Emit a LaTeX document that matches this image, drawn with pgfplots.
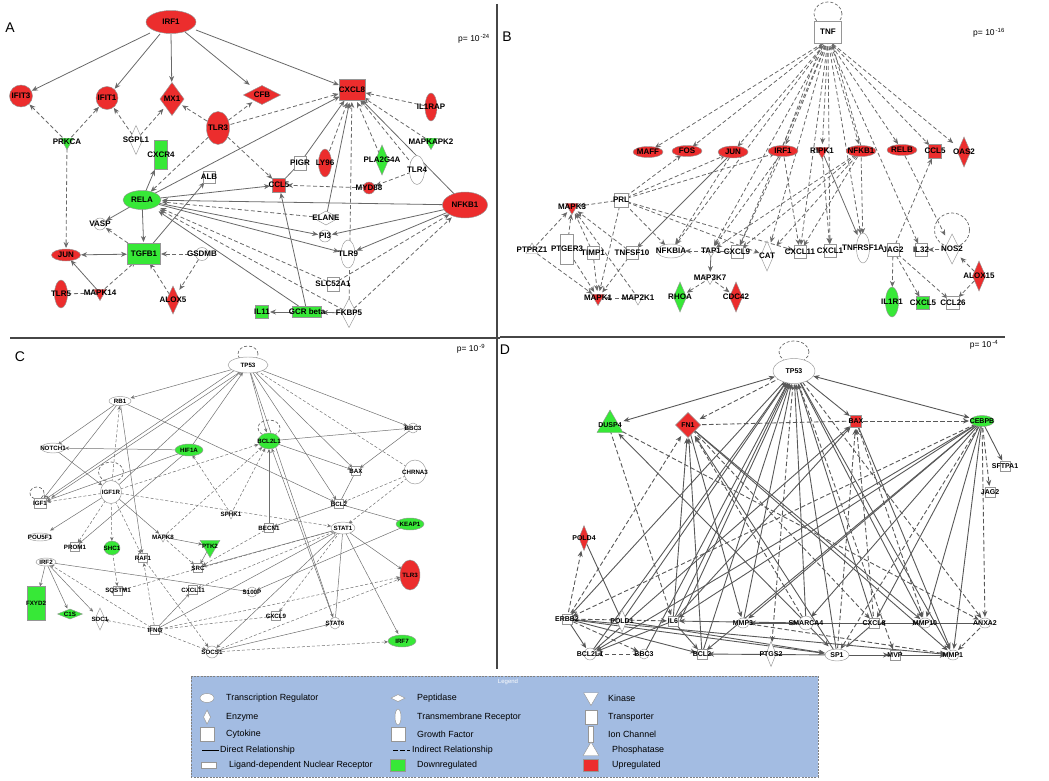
\documentclass[border=0pt]{standalone}
\usepackage{pgfplots}
\pgfplotsset{compat=1.18}
\usepackage{pgfplotstable}
\usepackage{fontspec}
\setmainfont{Liberation Sans}
\usetikzlibrary{arrows.meta,shapes.geometric}
\definecolor{nR}{RGB}{236,45,45}
\definecolor{nG}{RGB}{55,232,55}
\definecolor{nW}{RGB}{255,255,255}
\definecolor{nBorder}{RGB}{150,150,150}
\definecolor{edgeA}{RGB}{105,105,105}
\definecolor{edgeC}{RGB}{112,112,112}
\definecolor{edgeD}{RGB}{88,88,88}
\definecolor{legbg}{RGB}{163,188,226}
\definecolor{panel}{RGB}{70,70,70}

\pgfplotstableread[col sep=comma]{
x,y,w,h,c,t,f
171,22,50,23,nR,IRF1,8
21,96,23,22,nR,IFIT3,8
107,98,22,23,nR,IFIT1,8
218,128,23,33,nR,TLR3,8
431,107,12,28,nR,IL1RAP,8
325,163,13,28,nR,LY96,8
369,188,12,12,nR,MYD88,8
142,200,38,19,nG,RELA,8
465,205,45,26,nR,NFKB1,8
100,224,12,12,nW,VASP,8
325,236,12,12,nW,PI3,8
66,255,29,12,nR,JUN,8
202,254,13,13,nW,GSDMB,8
348,254,14,28,nW,TLR9,8
417,170,15,29,nW,TLR4,8
61,294,13,28,nR,TLR5,8
648,152,30,11,nR,MAFF,8
687,151,30,11,nR,FOS,8
733,152,30,12,nR,JUN,8
783,151,30,11,nR,IRF1,8
861,151,30,11,nR,NFKB1,8
902,150,30,11,nR,RELB,8
671,251,28,14,nW,NFKBIA,8
863,248,13,30,nW,TNFRSF1A,8
892,302,13,30,nG,IL1R1,8
248,365,40,16,nW,TP53,6.2
120,401,22,9,nW,RB1,6.2
413,428,10,10,nW,BBC3,6.2
53,448,24,10,nW,NOTCH1,6.2
189,450,28,12,nG,HIF1A,6.2
269,441,22,16,nG,BCL2L1,6.2
415,472,22,24,nW,CHRNA3,6.2
111,492,21,23,nW,IGF1R,6.2
410,524,28,12,nG,KEAP1,6.2
343,528,24,12,nW,STAT1,6.2
40,537,24,8,nW,POU5F1,6.2
112,548,16,14,nG,SHC1,6.2
46,562,20,8,nW,IRF2,6.2
410,575,20,30,nR,TLR3,6.2
252,592,10,10,nW,S100P,6.2
335,623,10,12,nW,STAT6,6.2
212,652,12,12,nW,SOCS1,6.2
402,641,28,12,nG,IRF7,6.2
794,371,42,25,nW,TP53,7
982,421,24,11,nG,CEBPB,7
743,623,12,10,nW,MMP3,7
806,623,14,14,nW,SMARCA4,7
925,623,12,10,nW,MMP10,7
985,623,12,10,nW,ANXA2,7
590,654,12,12,nW,BCL2L1,7
644,654,10,10,nW,BBC3,7
837,655,24,12,nW,SP1,7
953,655,12,10,nW,MMP1,7
}\tEll

\pgfplotstableread[col sep=comma]{
x,y,w,h,c,t,f
352,90,26,21,nR,CXCL8,8
161,155,13,29,nG,CXCR4,8
300,163,12,14,nW,PIGR,8
209,177,12,12,nW,ALB,8
279,185,13,14,nR,CCL5,8
144,254,33,21,nG,TGFB1,8
333,284,12,14,nW,SLC52A1,8
262,312,13,13,nG,IL11,8
307,312,29,11,nG,GCR beta,8
828,32,27,22,nW,TNF,8
935,151,13,14,nR,CCL5,8
621,200,14,14,nW,PRL,8
567,249,13,30,nW,PTGER3,8
593,253,12,13,nW,TIMP1,8
632,253,12,13,nW,TNFSF10,8
737,252,12,13,nW,CXCL9,8
800,252,12,13,nW,CXCL11,8
830,251,12,13,nW,CXCL1,8
893,250,12,13,nW,JAG2,8
921,250,12,13,nW,IL32,8
923,303,13,13,nG,CXCL5,8
953,303,13,13,nW,CCL26,8
356,471,9,9,nW,BAX,6.2
40,503,12,10,nW,IGF1,6.2
339,504,9,9,nW,BCL2,6.2
269,528,9,9,nW,BECN1,6.2
75,547,9,9,nW,PROM1,6.2
143,558,9,9,nW,RAF1,6.2
198,568,9,9,nW,SRC,6.2
36,603,18,34,nG,FXYD2,6.2
118,591,9,9,nW,SQSTM1,6.2
193,590,9,9,nW,CXCL11,6.2
276,616,9,9,nW,CXCL9,6.2
155,630,9,9,nW,IFNG,6.2
856,421,11,12,nR,BAX,7
1005,466,10,10,nW,SFTPA1,7
990,492,10,10,nW,JAG2,7
567,619,10,10,nW,ERBB2,7
673,621,10,10,nW,IL6,7
874,623,10,10,nW,CXCL8,7
702,654,10,10,nW,BCL2,7
895,655,10,10,nW,MVP,7
}\tSq

\pgfplotstableread[col sep=comma]{
x,y,w,h,c,t,f
172,99,24,33,nR,MX1,8
262,95,37,19,nR,CFB,8
136,140,13,29,nW,SGPL1,8
382,160,13,30,nG,PLA2G4A,8
326,218,25,14,nW,ELANE,8
173,300,13,28,nR,ALOX5,8
349,313,15,29,nW,FKBP5,8
964,152,13,30,nR,OAS2,8
767,256,13,30,nW,CAT,8
952,249,15,30,nW,NOS2,8
979,276,13,30,nR,ALOX15,8
680,297,13,30,nG,RHOA,8
736,297,13,30,nR,CDC42,8
70,614,25,10,nG,C1S,6.2
100,619,10,22,nW,SDC1,6.2
688,425,25,25,nR,FN1,7
584,538,10,25,nR,POLD4,7
622,621,10,22,nW,POLD1,7
771,654,10,25,nW,PTGS2,7
}\tDia

\pgfplotstableread[col sep=comma]{
x,y,w,h,c,t,f
67,142,15,15,nG,PRKCA,8
431,142,15,15,nG,MAPKAPK2,8
100,293,15,15,nR,MAPK14,8
822,151,15,15,nR,RIPK1,8
572,207,15,15,nR,MAPK3,8
598,298,15,15,nR,MAPK1,8
638,298,14,14,nW,MAP2K1,8
710,278,13,13,nW,MAP3K7,8
711,251,12,12,nW,TAP1,8
163,537,10,10,nW,MAPK8,6.2
210,546,23,23,nG,PTK2,6.2
231,514,10,10,nW,SPHK1,6.2
}\tTriD

\pgfplotstableread[col sep=comma]{
x,y,w,h,c,t,f
532,250,14,14,nW,PTPRZ1,8
610,425,30,30,nG,DUSP4,7
}\tTriU

\pgfplotstableread[col sep=comma]{
x,y,w,h,c
828,14,28,24,a
952,230,35,34,a
248,354,20,16,a
269,428,22,16,a
111,472,25,20,a
37,493,14,12,a
794,352,30,22,a
}\tLoop

\pgfplotstableread[col sep=comma]{
x,y,w,h,c
207,698,14,9,nW
398,717,6,16,nW
}\tLEll
\pgfplotstableread[col sep=comma]{
x,y,w,h,c
207,717,7,14,nW
398,698,14,7,nW
}\tLDia
\pgfplotstableread[col sep=comma]{
x,y,w,h,c
207,734,14,14,nW
398,734,14,14,nW
591,717,12,14,nW
591,734,5,16,nW
209,765,15,6,nW
398,765,15,12,nG
591,765,15,12,nR
}\tLSq
\pgfplotstableread[col sep=comma]{
x,y,w,h,c
591,697,17,17,nW
}\tLTriD
\pgfplotstableread[col sep=comma]{
x,y,w,h,c
591,751,18,18,nW
}\tLTriU

\pgfplotstableread[col sep=comma]{
x,y,t
226,698,Transcription Regulator
226,717,Enzyme
226,734,Cytokine
220,750,Direct Relationship
229,765,Ligand-dependent Nuclear Receptor
417,698,Peptidase
417,717,Transmembrane Receptor
417,734,Growth Factor
412,750,Indirect Relationship
417,765,Downregulated
608,698,Kinase
608,717,Transporter
608,734,Ion Channel
612,750,Phosphatase
612,765,Upregulated
}\tLText

\pgfplotsset{
  shp/.style={only marks, mark=none, point meta=explicit symbolic,
    visualization depends on={\thisrow{w}\as\nw},
    visualization depends on={\thisrow{h}\as\nh},
    nodes near coords={\relax},
    nodes near coords style={anchor=center, draw=nBorder, line width=0.45pt, fill=\pgfplotspointmeta,
      inner sep=0.1pt, outer sep=0pt, minimum width=\nw pt, minimum height=\nh pt, #1}},
  lbl/.style={only marks, mark=none, point meta=explicit symbolic,
    visualization depends on={\thisrow{f}\as\nfs},
    nodes near coords,
    nodes near coords style={anchor=center, inner sep=0pt, text=black,
      font=\fontsize{\nfs}{\nfs}\selectfont\bfseries}},
  loopst/.style={only marks, mark=none, point meta=explicit symbolic,
    visualization depends on={\thisrow{w}\as\nw},
    visualization depends on={\thisrow{h}\as\nh},
    nodes near coords={\relax},
    nodes near coords style={anchor=center, ellipse, draw=edgeA, line width=0.7pt,
      dash pattern=on 3pt off 2pt, inner sep=0.1pt, minimum width=\nw pt, minimum height=\nh pt}},
  eS/.style={draw=edgeA, line width=0.8pt, -{Stealth[length=6pt,width=5pt]}},
  eD/.style={eS, dash pattern=on 4pt off 2.5pt},
  eN/.style={draw=edgeA, line width=0.8pt},
  eDN/.style={eN, dash pattern=on 4pt off 2.5pt},
  eB/.style={draw=edgeA, line width=0.8pt, {Stealth[length=6pt,width=5pt]}-{Stealth[length=6pt,width=5pt]}},
  cS/.style={draw=edgeC, line width=0.5pt, -{Stealth[length=4pt,width=3.5pt]}},
  cD/.style={cS, dash pattern=on 3pt off 2pt},
  cN/.style={draw=edgeC, line width=0.5pt},
  dS/.style={draw=edgeD, line width=0.9pt, -{Stealth[length=6pt,width=5pt]}},
  dD/.style={dS, dash pattern=on 4.5pt off 2.5pt},
  dN/.style={draw=edgeD, line width=0.9pt},
  dDN/.style={dN, dash pattern=on 4.5pt off 2.5pt},
  dB/.style={draw=edgeD, line width=0.9pt, {Stealth[length=6pt,width=5pt]}-{Stealth[length=6pt,width=5pt]}},
}
\newcommand\edg[4][eS]{\addplot[#1,shorten >=#4pt] coordinates {(#2) (#3)};}
\newcommand\txt[4][black]{\addplot[only marks, mark=none, point meta=explicit symbolic, nodes near coords={#3},
  nodes near coords style={anchor=center, inner sep=0pt, text=#1, font=\fontsize{#4}{#4}\selectfont}] coordinates {(#2) [a]};}

\begin{document}
\begin{tikzpicture}
\begin{axis}[
  width=1049pt, height=781pt, scale only axis,
  xmin=0, xmax=1049, ymin=0, ymax=781, y dir=reverse,
  hide axis, clip=false,
]
\addplot[draw=none] coordinates {(0,0) (1049,781)};
\addplot[panel, line width=1.3pt] coordinates {(10,338) (500,338)};
\addplot[panel, line width=1.3pt] coordinates {(500,337) (1005,337)};
\addplot[panel, line width=1.3pt] coordinates {(497,4) (497,669)};

\edg{150,33}{21,96}{12}
\edg{160,34}{107,98}{12}
\edg{171,34}{172,99}{17}
\edg{185,32}{262,95}{16}
\edg{196,30}{352,90}{14}
\edg[eD]{67,142}{21,96}{12}
\edg[eD]{67,142}{107,98}{12}
\edg[eD]{136,140}{107,98}{12}
\edg[eD]{136,140}{172,99}{13}
\edg[eD]{218,128}{172,99}{12}
\edg[eD]{218,128}{262,95}{12}
\edg[eD]{218,128}{352,90}{14}
\edg[eD]{218,128}{142,200}{12}
\edg[eD]{218,128}{279,185}{9}
\edg[eD]{67,142}{66,255}{7}
\edg{142,200}{161,155}{16}
\edg{142,200}{352,90}{14}
\edg{142,200}{279,185}{9}
\edg{142,200}{100,224}{7}
\edg{142,200}{144,254}{12}
\edg{465,205}{142,200}{20}
\edg{465,205}{352,90}{14}
\edg{465,205}{325,236}{7}
\edg{465,205}{348,254}{9}
\edg{142,200}{325,236}{7}
\edg{142,200}{348,254}{9}
\edg[eD]{326,218}{142,200}{20}
\edg{326,218}{352,90}{13}
\edg{300,163}{352,90}{13}
\edg[eN]{279,185}{300,163}{0}
\edg[eD]{325,163}{352,90}{13}
\edg[eD]{382,160}{352,90}{13}
\edg[eD]{417,170}{352,90}{13}
\edg[eD]{431,107}{352,90}{14}
\edg[eD]{431,142}{352,90}{14}
\edg[eD]{349,313}{352,90}{12}
\edg[eD]{417,170}{369,188}{7}
\edg[eD]{369,188}{279,185}{8}
\edg{307,312}{279,185}{8}
\edg{300,307}{142,200}{20}
\edg{349,313}{307,312}{15}
\edg{307,312}{262,312}{8}
\edg[eD]{349,313}{142,200}{20}
\edg[eD]{349,313}{465,205}{18}
\edg[eD]{333,284}{142,200}{20}
\edg[eD]{333,284}{465,205}{18}
\edg{144,254}{209,177}{7}
\edg[eD]{144,254}{100,224}{7}
\edg[eB,shorten <=15pt]{66,255}{144,254}{17}
\edg[eD]{202,254}{144,254}{17}
\edg[eD]{202,254}{173,300}{12}
\edg[eD]{173,300}{144,254}{11}
\edg{100,293}{66,255}{7}
\edg[eD]{100,293}{144,254}{11}
\edg[eDN]{61,294}{100,293}{0}

\edg[eD]{828,40}{648,152}{8}
\edg[eD]{828,40}{687,151}{7}
\edg[eD]{828,40}{733,152}{7}
\edg[eD]{828,40}{783,151}{7}
\edg[eD]{828,40}{822,151}{7}
\edg[eD]{828,40}{861,151}{7}
\edg[eD]{828,40}{902,150}{7}
\edg[eD]{828,40}{935,151}{8}
\edg[eD]{828,40}{964,152}{14}
\edg[eD]{828,40}{671,251}{8}
\edg[eD]{828,40}{711,251}{6}
\edg[eD]{828,40}{737,252}{7}
\edg[eD]{828,40}{767,256}{14}
\edg[eD]{828,40}{800,252}{7}
\edg[eD]{828,40}{830,251}{7}
\edg[eD]{828,40}{863,248}{14}
\edg[eD]{828,40}{921,250}{7}
\edg[eD]{783,146}{822,43}{1}
\edg[eD]{861,146}{832,43}{1}
\edg[eD]{621,200}{687,151}{7}
\edg[eD]{621,200}{733,152}{8}
\edg[eD]{621,200}{783,151}{8}
\edg[eD]{621,200}{572,207}{7}
\edg[eD]{621,200}{671,251}{8}
\edg[eD]{621,200}{800,252}{7}
\edg[eD]{621,200}{767,256}{8}
\edg[eD]{621,200}{598,298}{7}
\edg[eD]{532,250}{572,207}{7}
\edg[eD]{532,250}{598,298}{7}
\edg[eD]{567,249}{572,207}{7}
\edg[eD]{567,249}{598,298}{7}
\edg[eD]{593,253}{572,207}{7}
\edg[eD]{593,253}{598,298}{7}
\edg[eD]{632,253}{572,207}{7}
\edg[eD]{632,253}{598,298}{7}
\edg[eD]{638,298}{598,298}{7}
\edg[eD]{638,298}{572,207}{7}
\edg{733,152}{632,253}{7}
\edg[eD]{733,152}{671,251}{8}
\edg[eD]{783,151}{711,251}{6}
\edg[eD]{783,151}{737,252}{7}
\edg[eD]{783,151}{800,252}{7}
\edg[eD]{861,151}{800,252}{7}
\edg[eD]{861,151}{737,252}{7}
\edg[eD]{861,151}{863,248}{14}
\edg[eD]{861,151}{767,256}{14}
\edg[eD]{861,151}{711,251}{6}
\edg{822,151}{863,248}{14}
\edg[eD]{822,151}{830,251}{7}
\edg[eD]{711,251}{671,251}{14}
\edg{711,251}{710,278}{6}
\edg[eD]{710,278}{680,297}{8}
\edg[eD]{710,278}{736,297}{8}
\edg[eDN]{737,252}{711,251}{0}
\edg[eD]{893,250}{892,302}{15}
\edg[eD]{893,250}{923,303}{7}
\edg[eD]{893,250}{953,303}{7}
\edg[eD]{893,250}{935,151}{8}
\edg[eD]{902,150}{952,249}{15}
\edg[eD]{952,249}{921,250}{7}
\edg[eD]{979,276}{952,249}{12}
\edg[eD]{979,276}{953,303}{8}

\edg[cS]{248,365}{120,401}{11}
\edg[cS]{235,370}{40,503}{7}
\edg[cS]{240,372}{48,500}{4}
\edg[cS]{189,450}{248,365}{9}
\edg[cS]{248,365}{269,441}{9}
\edg[cS]{248,365}{413,428}{6}
\edg[cS]{248,365}{356,471}{5}
\edg[cS]{248,365}{339,504}{5}
\edg[cS]{248,365}{335,623}{6}
\edg[cD]{415,472}{248,365}{9}
\edg[cS]{111,492}{248,365}{9}
\edg[cS]{120,401}{53,448}{6}
\edg[cS]{120,401}{40,503}{6}
\edg[cS]{120,401}{339,504}{5}
\edg[cS]{120,401}{143,558}{5}
\edg[cD]{111,492}{120,401}{5}
\edg[cS]{189,450}{53,448}{12}
\edg[cS]{189,450}{40,503}{7}
\edg[cS]{189,450}{75,547}{5}
\edg[cS]{53,448}{111,492}{11}
\edg[cD]{111,492}{40,503}{7}
\edg[cS]{111,492}{40,537}{12}
\edg[cD]{111,492}{75,547}{5}
\edg[cD]{111,492}{112,548}{7}
\edg[cD]{111,492}{143,558}{5}
\edg[cS]{111,492}{163,537}{5}
\edg[cD]{111,492}{343,528}{12}
\edg[cD]{111,492}{269,441}{11}
\edg[cD]{231,514}{189,450}{6}
\edg[cD]{231,514}{269,441}{8}
\edg[cS]{269,441}{413,428}{5}
\edg[cS]{269,441}{356,471}{5}
\edg[cS]{269,528}{269,441}{8}
\edg[cS]{413,428}{356,471}{5}
\edg[cN]{356,471}{339,504}{0}
\edg[cD]{415,472}{339,504}{5}
\edg[cD]{415,472}{343,528}{7}
\edg[cN]{339,504}{410,524}{0}
\edg[cS]{339,504}{269,528}{5}
\edg[cS]{343,528}{410,575}{10}
\edg[cS]{343,528}{402,641}{8}
\edg[cS]{343,528}{198,568}{5}
\edg[cS]{343,528}{212,652}{6}
\edg[cS]{155,630}{343,528}{7}
\edg[cD]{343,528}{276,616}{5}
\edg[cD]{343,528}{193,590}{5}
\edg[cD]{343,528}{118,591}{5}
\edg[cN]{335,623}{343,528}{0}
\edg[cS]{335,623}{269,441}{8}
\edg[cS]{46,562}{252,592}{5}
\edg[cS]{410,524}{252,592}{5}
\edg[cS]{46,562}{36,603}{17}
\edg[cS]{46,562}{70,614}{6}
\edg[cS]{46,562}{100,619}{10}
\edg[cD]{155,630}{46,562}{5}
\edg[cD]{155,630}{100,619}{5}
\edg[cD]{155,630}{143,558}{5}
\edg[cS]{155,630}{193,590}{5}
\edg[cD]{155,630}{410,575}{10}
\edg[cD]{155,630}{212,652}{6}
\edg[cD]{155,630}{276,616}{5}
\edg[cD]{212,652}{402,641}{14}
\edg[cS]{212,652}{335,623}{6}
\edg[cD]{212,652}{410,575}{10}
\edg[cD]{143,558}{212,652}{6}
\edg[cS]{163,537}{210,546}{8}
\edg[cD]{163,537}{198,568}{5}
\edg[cD]{163,537}{269,441}{9}
\edg[cS]{210,546}{198,568}{5}
\edg[cD]{112,548}{118,591}{5}
\edg[cD]{269,528}{198,568}{5}

\edg[dB,shorten <=20pt]{794,371}{610,425}{14}
\edg[dD]{794,371}{688,425}{13}
\edg[dS]{794,371}{856,421}{8}
\edg[dB,shorten <=20pt]{794,371}{982,421}{13}
\edg[dS]{794,371}{567,619}{6}
\edg[dS]{622,621}{794,371}{13}
\edg[dS]{673,621}{794,371}{13}
\edg[dS]{680,621}{790,382}{1}
\edg[dS]{743,623}{794,371}{13}
\edg[dS]{806,623}{794,371}{13}
\edg[dS]{874,623}{794,371}{13}
\edg[dS]{794,371}{925,623}{6}
\edg[dS]{794,371}{953,655}{6}
\edg[dS]{590,654}{794,371}{13}
\edg[dS]{702,654}{794,371}{13}
\edg[dS]{837,655}{794,371}{13}
\edg[dD]{794,371}{771,654}{12}
\edg[dD]{794,371}{985,623}{6}
\edg[dD]{794,371}{895,655}{6}
\edg[dS]{644,654}{794,371}{13}
\edg[dD]{567,619}{688,425}{13}
\edg[dS]{673,621}{688,425}{13}
\edg[dS]{688,425}{743,623}{6}
\edg[dD]{806,623}{688,425}{13}
\edg[dS]{688,425}{925,623}{6}
\edg[dS]{688,425}{953,655}{7}
\edg[dS]{702,654}{688,425}{13}
\edg[dS]{837,655}{688,425}{13}
\edg[dD]{688,425}{874,623}{6}
\edg[dDN]{688,425}{856,421}{0}
\edg[dD]{856,421}{982,421}{13}
\edg[dS]{590,654}{856,421}{8}
\edg[dS]{673,621}{856,421}{8}
\edg[dD]{874,623}{856,421}{8}
\edg[dD]{837,655}{856,421}{8}
\edg[dS]{856,421}{953,655}{7}
\edg[dD]{856,421}{925,623}{6}
\edg[dS]{982,421}{1005,466}{6}
\edg[dD]{982,421}{990,492}{6}
\edg[dS]{982,421}{673,621}{6}
\edg[dS]{982,421}{743,623}{7}
\edg[dS]{982,421}{806,623}{8}
\edg[dS]{982,421}{874,623}{6}
\edg[dS]{982,421}{925,623}{6}
\edg[dS]{982,421}{953,655}{6}
\edg[dS]{982,421}{590,654}{7}
\edg[dS]{982,421}{702,654}{6}
\edg[dD]{982,421}{567,619}{6}
\edg[dD]{982,421}{837,655}{7}
\edg[dD]{982,421}{985,623}{6}
\edg[dD]{610,430}{673,621}{6}
\edg[dS]{806,623}{610,425}{12}
\edg[dD]{610,425}{985,623}{7}
\edg[dD]{567,619}{584,538}{13}
\edg[dN]{584,538}{622,621}{0}
\edg[dS]{567,619}{590,654}{7}
\edg[dD]{567,619}{644,654}{6}
\edg[dS]{567,619}{702,654}{6}
\edg[dS]{567,619}{837,655}{13}
\edg[dS]{567,619}{953,655}{7}
\edg[dD]{567,619}{673,621}{6}
\edg[dB,shorten <=6pt]{673,621}{806,623}{8}
\edg[dS]{874,623}{743,623}{7}
\edg[dS]{806,623}{925,623}{7}
\edg[dS]{985,623}{874,623}{6}
\edg[dD]{644,654}{590,654}{7}
\edg[dS]{837,655}{702,654}{6}
\edg[dS]{837,655}{953,655}{7}
\edg[dD]{837,655}{895,655}{6}
\edg[dS]{895,655}{953,655}{7}
\edg[dS]{673,621}{590,654}{7}
\edg[dS]{673,621}{702,654}{6}
\edg[dS]{806,623}{837,655}{12}
\edg[dS]{874,623}{837,655}{12}
\edg[dD]{985,623}{953,655}{7}
\edg[dD]{743,623}{953,655}{7}
\edg[dS]{622,621}{837,655}{12}

\addplot[loopst] table[x=x,y=y,meta=c] {\tLoop};

\addplot[shp=ellipse] table[x=x,y=y,meta=c] {\tEll};
\addplot[shp=rectangle] table[x=x,y=y,meta=c] {\tSq};
\addplot[shp=diamond] table[x=x,y=y,meta=c] {\tDia};
\addplot[shp={regular polygon, regular polygon sides=3, shape border rotate=180}] table[x=x,y=y,meta=c] {\tTriD};
\addplot[shp={regular polygon, regular polygon sides=3}] table[x=x,y=y,meta=c] {\tTriU};

\addplot[lbl] table[x=x,y=y,meta=t] {\tEll};
\addplot[lbl] table[x=x,y=y,meta=t] {\tSq};
\addplot[lbl] table[x=x,y=y,meta=t] {\tDia};
\addplot[lbl] table[x=x,y=y,meta=t] {\tTriD};
\addplot[lbl] table[x=x,y=y,meta=t] {\tTriU};

\txt{10,28}{A}{14}
\txt{507,37}{B}{14}
\txt{20,357}{C}{14}
\txt{505,350}{D}{14}
\txt{474,39}{p= 10\textsuperscript{\,-24}}{8.5}
\txt{989,33}{p= 10\textsuperscript{\,-16}}{8.5}
\txt{471,349}{p= 10\textsuperscript{\,-9}}{8.5}
\txt{984,345}{p= 10\textsuperscript{\,-4}}{8.5}

\addplot[fill=legbg, draw=gray, line width=0.6pt, dash pattern=on 2pt off 1.2pt] coordinates {(191,676) (818,676) (818,777) (191,777) (191,676)};
\txt[white]{508,682}{Legend}{6}
\addplot[shp=ellipse] table[x=x,y=y,meta=c] {\tLEll};
\addplot[shp=diamond] table[x=x,y=y,meta=c] {\tLDia};
\addplot[shp=rectangle] table[x=x,y=y,meta=c] {\tLSq};
\addplot[shp={regular polygon, regular polygon sides=3, shape border rotate=180}] table[x=x,y=y,meta=c] {\tLTriD};
\addplot[shp={regular polygon, regular polygon sides=3}] table[x=x,y=y,meta=c] {\tLTriU};
\addplot[black, line width=1pt] coordinates {(202,750) (219,750)};
\addplot[black, line width=1pt, dash pattern=on 4.5pt off 2.5pt] coordinates {(393,750) (410,750)};
\addplot[only marks, mark=none, point meta=explicit symbolic, nodes near coords,
  nodes near coords style={anchor=west, inner sep=0pt, text=black, font=\fontsize{8.9}{8.9}\selectfont}]
  table[x=x,y=y,meta=t] {\tLText};
\end{axis}
\end{tikzpicture}
\end{document}
